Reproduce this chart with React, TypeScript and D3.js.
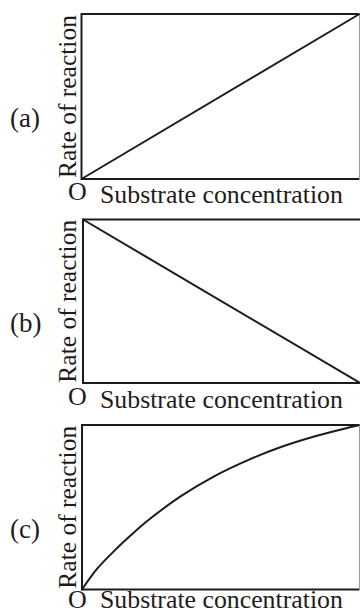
import React from "react";
import * as d3 from "d3";

const panelLabels = ["(a)", "(b)", "(c)"];
const yTitle = "Rate of reaction";
const xTitle = "Substrate concentration";
const originLabel = "O";

const concLinear = [0, 1];
const rateA = [0, 1];
const rateB = [1, 0];
const concC = [0, 0.054, 0.1145, 0.175, 0.235, 0.355, 0.476, 0.596, 0.717, 0.837, 0.958, 1];
const rateC = [0, 0.125, 0.232, 0.328, 0.416, 0.566, 0.688, 0.785, 0.866, 0.93, 0.983, 1];

type Panel = {
  label: string;
  xs: number[];
  ys: number[];
  left: number;
  right: number;
  top: number;
  bottom: number;
  rightEdge: boolean;
  labelBase: number;
  oBase: number;
  xBase: number;
  curved: boolean;
};

const panels: Panel[] = [
  { label: panelLabels[0], xs: concLinear, ys: rateA, left: 81.5, right: 359.5, top: 14, bottom: 179, rightEdge: true, labelBase: 127, oBase: 200, xBase: 202.5, curved: false },
  { label: panelLabels[1], xs: concLinear, ys: rateB, left: 83, right: 360, top: 219.5, bottom: 383, rightEdge: false, labelBase: 332, oBase: 405, xBase: 407.5, curved: false },
  { label: panelLabels[2], xs: concC, ys: rateC, left: 82, right: 359.5, top: 425, bottom: 589.5, rightEdge: true, labelBase: 538, oBase: 607.5, xBase: 608, curved: true },
];

const ink = "#1f1b1c";
const font = "'Liberation Serif', 'Times New Roman', serif";

export default function App() {
  return (
    <svg
      width={360}
      height={614}
      style={{ position: "absolute", left: 0, top: 0, background: "#fff" }}
      fontFamily={font}
    >
      <rect x={0} y={0} width={360} height={614} fill="#fff" />
      {panels.map((p, i) => {
        const x = d3.scaleLinear().domain([0, 1]).range([p.left, p.right]);
        const y = d3.scaleLinear().domain([0, 1]).range([p.bottom, p.top]);
        const pts: [number, number][] = p.xs.map((v, k) => [v, p.ys[k]]);
        const line = d3
          .line<[number, number]>()
          .x((d) => x(d[0]))
          .y((d) => y(d[1]))
          .curve(p.curved ? d3.curveCatmullRom.alpha(0.5) : d3.curveLinear);
        const midY = (p.top + p.bottom) / 2;
        return (
          <g key={i}>
            <line x1={p.left} x2={p.right} y1={p.top} y2={p.top} stroke={ink} strokeWidth={2} />
            <line x1={p.left} x2={p.right} y1={p.bottom} y2={p.bottom} stroke={ink} strokeWidth={2} />
            <line x1={p.left} x2={p.left} y1={p.top - 1} y2={p.bottom + 1} stroke={ink} strokeWidth={2} />
            {p.rightEdge && (
              <line x1={359.5} x2={359.5} y1={p.top} y2={p.bottom} stroke="#9a9a9a" strokeWidth={1} />
            )}
            <path d={line(pts) || ""} fill="none" stroke={ink} strokeWidth={2} />
            <text x={10} y={p.labelBase} fontSize={27} fill={ink}>
              {p.label}
            </text>
            <text
              transform={`translate(76,${midY}) rotate(-90)`}
              textAnchor="middle"
              fontSize={25.5}
              fill={ink}
            >
              {yTitle}
            </text>
            <text x={68} y={p.oBase} fontSize={26} fill={ink}>
              {originLabel}
            </text>
            <text x={100} y={p.xBase} fontSize={25.8} fill={ink}>
              {xTitle}
            </text>
          </g>
        );
      })}
    </svg>
  );
}
